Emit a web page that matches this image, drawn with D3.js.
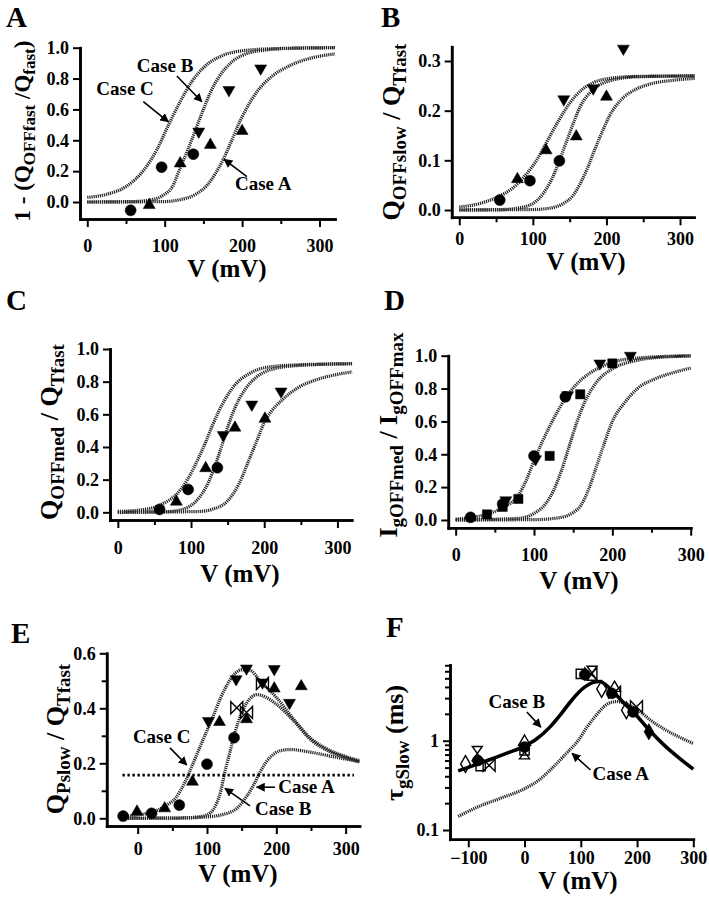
<!DOCTYPE html>
<html>
<head>
<meta charset="utf-8">
<script src="https://cdn.jsdelivr.net/npm/d3@7"></script>
<style>
body { margin: 0; background: #fff; }
svg text { font-family: "Liberation Serif", "DejaVu Serif", serif; font-weight: bold; fill: #000; }
</style>
</head>
<body>
<svg id="fig" width="709" height="900"></svg>
<script>
// ---- Panel A: 1 - (QOFFfast/Qfast) ----
const aCircle = [[56, -0.054], [96, 0.226], [137, 0.31]];
const aUp = [[80, -0.02], [120, 0.25], [159, 0.37], [200, 0.46]];
const aDown = [[144, 0.457], [183, 0.726], [224, 0.866]];
const aCaseC = [[0, 0.03], [25, 0.05], [50, 0.1], [75, 0.22], [90, 0.34], [105, 0.5], [120, 0.65], [135, 0.78], [150, 0.87], [175, 0.95], [200, 0.98], [250, 0.995], [320, 1.0]];
const aCaseB = [[0, 0], [60, 0.003], [80, 0.012], [100, 0.05], [110, 0.1], [120, 0.22], [130, 0.34], [140, 0.47], [150, 0.6], [160, 0.72], [170, 0.81], [185, 0.9], [200, 0.95], [230, 0.985], [270, 0.997], [320, 1.0]];
const aCaseA = [[0, 0], [100, 0.003], [120, 0.015], [140, 0.05], [155, 0.11], [165, 0.18], [175, 0.27], [185, 0.38], [195, 0.5], [205, 0.6], [220, 0.72], [240, 0.82], [260, 0.88], [280, 0.92], [300, 0.945], [320, 0.96]];

// ---- Panel B: QOFFslow/QTfast ----
const bCircle = [[55, 0.02], [96, 0.059], [136, 0.099]];
const bUp = [[79, 0.062], [118, 0.12], [159, 0.148], [200, 0.228]];
const bDown = [[142, 0.223], [182, 0.245], [223, 0.325]];
const bCurveC = [[0, 0.006], [25, 0.012], [50, 0.025], [75, 0.047], [90, 0.07], [105, 0.1], [120, 0.14], [135, 0.18], [150, 0.215], [165, 0.24], [180, 0.255], [200, 0.264], [240, 0.269], [320, 0.27]];
const bCurveB = [[0, 0], [60, 0.001], [80, 0.004], [100, 0.013], [115, 0.035], [125, 0.06], [135, 0.095], [145, 0.135], [155, 0.175], [165, 0.21], [180, 0.24], [200, 0.258], [240, 0.268], [320, 0.27]];
const bCurveA = [[0, 0], [100, 0.001], [120, 0.003], [140, 0.012], [155, 0.03], [165, 0.055], [175, 0.087], [185, 0.125], [195, 0.16], [205, 0.192], [220, 0.222], [240, 0.243], [260, 0.254], [290, 0.261], [320, 0.265]];

// ---- Panel C: QOFFmed/QTfast ----
const cCircle = [[57, 0.018], [96, 0.14], [136, 0.273]];
const cUp = [[80, 0.065], [120, 0.27], [160, 0.518], [201, 0.573]];
const cDown = [[144, 0.473], [183, 0.66], [223, 0.74]];
const cCurveC = [[0, 0.005], [40, 0.02], [60, 0.05], [80, 0.11], [95, 0.2], [110, 0.33], [120, 0.43], [130, 0.54], [145, 0.68], [160, 0.78], [180, 0.85], [200, 0.885], [240, 0.902], [320, 0.91]];
const cCurveB = [[0, 0], [70, 0.005], [90, 0.02], [105, 0.06], [120, 0.15], [130, 0.25], [140, 0.38], [150, 0.52], [160, 0.64], [175, 0.76], [190, 0.83], [210, 0.875], [250, 0.9], [320, 0.91]];
const cCurveA = [[0, 0], [110, 0.005], [130, 0.02], [150, 0.07], [165, 0.17], [180, 0.33], [190, 0.44], [200, 0.55], [210, 0.62], [225, 0.69], [245, 0.76], [270, 0.81], [295, 0.84], [320, 0.86]];

// ---- Panel D: IgOFFmed/IgOFFmax ----
const dCircle = [[19, 0.016], [60, 0.097], [100, 0.39], [140, 0.75]];
const dSquare = [[40, 0.034], [60, 0.08], [80, 0.128], [120, 0.39], [159, 0.765], [200, 0.953]];
const dDown = [[64, 0.12], [102, 0.37], [143, 0.76], [184, 0.953], [223, 1.0]];
const dCurveC = [[0, 0.005], [20, 0.015], [40, 0.035], [60, 0.075], [80, 0.15], [90, 0.24], [100, 0.36], [110, 0.47], [120, 0.57], [130, 0.66], [140, 0.74], [155, 0.83], [170, 0.89], [185, 0.93], [200, 0.96], [230, 0.985], [300, 1.0]];
const dCurveB = [[0, 0], [80, 0.01], [100, 0.04], [115, 0.1], [125, 0.18], [135, 0.3], [145, 0.45], [155, 0.6], [165, 0.72], [180, 0.84], [200, 0.92], [230, 0.97], [260, 0.99], [300, 0.998]];
const dCurveA = [[0, 0], [100, 0.002], [130, 0.012], [150, 0.045], [160, 0.09], [170, 0.19], [180, 0.33], [190, 0.47], [200, 0.6], [215, 0.71], [232, 0.8], [255, 0.86], [280, 0.9], [300, 0.925]];

// ---- Panel E: QPslow/QTfast ----
const eCircle = [[-21, 0.008], [20, 0.018], [60, 0.048], [100, 0.197], [139, 0.293]];
const eUp = [[-1, 0.024], [39, 0.036], [79, 0.133], [118, 0.35], [157, 0.36], [197, 0.472], [236, 0.48]];
const eDown = [[102, 0.354], [142, 0.506], [157, 0.545], [180, 0.494], [197, 0.543], [219, 0.42]];
const eBowtie = [[143, 0.402], [157, 0.385], [180, 0.49]];
const eCurveC = [[-20, 0.005], [0, 0.012], [20, 0.022], [40, 0.045], [55, 0.075], [68, 0.13], [80, 0.2], [95, 0.29], [107, 0.36], [120, 0.44], [135, 0.51], [150, 0.54], [160, 0.54], [180, 0.49], [200, 0.44], [225, 0.36], [250, 0.29], [275, 0.25], [300, 0.225], [320, 0.21]];
const eCurveB = [[-20, 0], [60, 0.001], [90, 0.006], [105, 0.02], [114, 0.055], [120, 0.1], [125, 0.16], [131, 0.22], [138, 0.29], [145, 0.35], [153, 0.4], [162, 0.435], [172, 0.45], [185, 0.44], [200, 0.415], [225, 0.355], [250, 0.285], [275, 0.245], [300, 0.22], [320, 0.205]];
const eCurveA = [[-20, 0], [60, 0.001], [100, 0.005], [120, 0.012], [143, 0.036], [157, 0.079], [167, 0.12], [177, 0.17], [187, 0.21], [197, 0.235], [210, 0.248], [220, 0.25], [250, 0.24], [280, 0.225], [320, 0.206]];
const eLevel = [[-22, 0.157], [312, 0.157]];

// ---- Panel F: tau gSlow (ms), log scale ----
const fCircle = [[-83, 0.6], [0, 0.85], [107, 5.5], [155, 3.4], [193, 2.1]];
const fDiamondFilled = [[221, 1.26]];
const fDiamond = [[-105, 0.55], [137, 3.8], [181, 2.2]];
const fSquare = [[-78, 0.52], [0, 0.78], [100, 5.6]];
const fHourglass = [[-84, 0.72], [0, 0.75], [120, 5.7]];
const fBowtie = [[-63, 0.53], [118, 5.6], [160, 3.5], [199, 2.4]];
const fTriangle = [[0, 0.97], [160, 3.9]];
const fCaseB = [[-118, 0.46], [-90, 0.53], [-60, 0.62], [-30, 0.73], [0, 0.87], [20, 1.03], [45, 1.42], [65, 2.0], [85, 2.9], [105, 3.9], [120, 4.45], [134, 4.6], [145, 4.2], [160, 3.4], [178, 2.6], [195, 2.05], [220, 1.35], [250, 0.87], [275, 0.64], [300, 0.48]];
const fCaseA = [[-118, 0.142], [-80, 0.185], [-40, 0.23], [0, 0.29], [25, 0.36], [50, 0.5], [75, 0.73], [95, 1.0], [111, 1.42], [125, 1.85], [141, 2.4], [155, 2.7], [165, 2.75], [180, 2.6], [200, 2.25], [225, 1.68], [250, 1.33], [275, 1.1], [300, 0.93]];

// ticks
const vTicks = [0, 100, 200, 300];
const vMinor = [50, 150, 250];
const fVTicks = [-100, 0, 100, 200, 300];
const unitTicks = [0, 0.2, 0.4, 0.6, 0.8, 1.0];
const bTicks = [0, 0.1, 0.2, 0.3];
const eTicks = [0, 0.2, 0.4, 0.6];
const eMinor = [0.1, 0.3, 0.5];
const fTicks = [0.1, 1];
const fMinor = [0.2, 0.3, 0.4, 0.5, 0.6, 0.7, 0.8, 0.9, 2, 3, 4, 5, 6, 7];

const svg = d3.select("#fig");

svg.append("defs").append("marker")
    .attr("id", "head")
    .attr("viewBox", "0 0 10 10")
    .attr("refX", 9).attr("refY", 5)
    .attr("markerWidth", 9).attr("markerHeight", 9)
    .attr("markerUnits", "userSpaceOnUse")
    .attr("orient", "auto")
    .append("path").attr("d", "M0,0 L10,5 L0,10 Z").attr("fill", "#000");

const symCircle = d3.symbol().type(d3.symbolCircle).size(95)();
const symUp = d3.symbol().type(d3.symbolTriangle).size(62)();
const symSquare = d3.symbol().type(d3.symbolSquare).size(85)();
const symDiamond = d3.symbol().type(d3.symbolDiamond).size(80)();
const symBowtie = "M-6,-6L0,0L-6,6ZM6,-6L0,0L6,6Z";
const symHourglass = "M-5,-7L5,-7L0,0ZM-5,7L5,7L0,0Z";

function drawPanel(p) {
    const x = d3.scaleLinear().domain(p.xDomain).range(p.xRange);
    const y = (p.log ? d3.scaleLog() : d3.scaleLinear()).domain(p.yDomain).range(p.yRange);
    const g = svg.append("g");
    const bottom = p.yRange[0], left = p.xRange[0];

    // axes: minor ticks first, then labelled ones
    g.append("g").attr("transform", `translate(0,${bottom})`)
        .call(d3.axisBottom(x).tickValues(p.xMinor).tickSize(5).tickFormat("").tickSizeOuter(0));
    g.append("g").attr("transform", `translate(0,${bottom})`)
        .call(d3.axisBottom(x).tickValues(p.xTicks).tickSize(8).tickPadding(p.xPad).tickSizeOuter(0).tickFormat(d3.format("d")));
    g.append("g").attr("transform", `translate(${left},0)`)
        .call(d3.axisLeft(y).tickValues(p.yMinor).tickSize(5).tickFormat("").tickSizeOuter(0));
    g.append("g").attr("transform", `translate(${left},0)`)
        .call(d3.axisLeft(y).tickValues(p.yTicks).tickSize(7).tickPadding(4).tickSizeOuter(0).tickFormat(p.yFormat));

    g.selectAll(".domain").attr("stroke-width", 2.6).attr("stroke-linecap", "square");
    g.selectAll(".tick line").attr("stroke-width", 2);
    g.selectAll(".tick text")
        .attr("font-family", "'Liberation Serif', serif")
        .attr("font-size", 18).attr("font-weight", "bold");

    const line = d3.line().x((d) => x(d[0])).y((d) => y(d[1])).curve(d3.curveMonotoneX);

    // model curves
    p.curves.forEach((c) => {
        g.append("path")
            .datum(c)
            .attr("d", line)
            .attr("fill", "none")
            .attr("stroke", "#222")
            .attr("stroke-width", 3.2)
            .attr("stroke-dasharray", "1.2,0.9");
    });
    (p.solid || []).forEach((c) => {
        g.append("path")
            .datum(c)
            .attr("d", line)
            .attr("fill", "none")
            .attr("stroke", "#000")
            .attr("stroke-width", 3.6);
    });
    (p.dotted || []).forEach((c) => {
        g.append("path")
            .datum(c)
            .attr("d", d3.line().x((d) => x(d[0])).y((d) => y(d[1])))
            .attr("fill", "none")
            .attr("stroke", "#000")
            .attr("stroke-width", 2.6)
            .attr("stroke-dasharray", "2.4,2.6");
    });

    // data markers
    p.points.forEach((s) => {
        g.selectAll(null)
            .data(s.data)
            .enter()
            .append("path")
            .attr("d", s.shape)
            .attr("transform", (d) => `translate(${x(d[0])},${y(d[1])})` + (s.rotate ? ` rotate(${s.rotate})` : ""))
            .attr("fill", s.open ? "none" : "#000")
            .attr("stroke", "#000")
            .attr("stroke-width", s.open ? 1.4 : 0.5);
    });

    // annotations
    (p.notes || []).forEach((n) => {
        g.append("text")
            .attr("x", x(n.at[0]))
            .attr("y", y(n.at[1]))
            .attr("text-anchor", n.anchor || "middle")
            .attr("font-size", 19)
            .text(n.text);
        g.append("line")
            .attr("x1", x(n.from[0])).attr("y1", y(n.from[1]))
            .attr("x2", x(n.to[0])).attr("y2", y(n.to[1]))
            .attr("stroke", "#000")
            .attr("stroke-width", 1.6)
            .attr("marker-end", "url(#head)");
    });

    // panel letter
    svg.append("text")
        .attr("x", p.letterPos[0]).attr("y", p.letterPos[1])
        .attr("font-size", 29)
        .text(p.letter);

    // x title
    svg.append("text")
        .attr("x", p.xTitlePos[0]).attr("y", p.xTitlePos[1])
        .attr("text-anchor", "middle")
        .attr("font-size", 25)
        .text("V (mV)");

    // y title with subscripts
    const main = p.titleSize || 26, sub = p.subSize || 19;
    const yt = svg.append("text")
        .attr("transform", `translate(${p.yTitlePos[0]},${p.yTitlePos[1]}) rotate(-90)`)
        .attr("text-anchor", "middle")
        .attr("font-size", main);
    p.yTitle.forEach((part) => {
        yt.append("tspan")
            .attr("font-size", part.sub ? sub : main)
            .attr("dy", part.dy || 0)
            .text(part.t);
    });
}

const fmt1 = d3.format(".1f");

drawPanel({
    letter: "A", letterPos: [6, 27],
    xDomain: [-9.4, 320], xRange: [80, 335],
    yDomain: [-0.11, 1.0], yRange: [219, 47.7],
    xTicks: vTicks, xMinor: vMinor, xPad: 12,
    yTicks: unitTicks, yMinor: [], yFormat: fmt1,
    curves: [aCaseC, aCaseB, aCaseA],
    points: [
        { data: aCircle, shape: symCircle },
        { data: aUp, shape: symUp },
        { data: aDown, shape: symUp, rotate: 180 }
    ],
    notes: [
        { text: "Case B", at: [100.5, 0.843], from: [115.7, 0.817], to: [148, 0.65] },
        { text: "Case C", at: [48.8, 0.693], from: [72.4, 0.65], to: [104.8, 0.52] },
        { text: "Case A", at: [227.3, 0.078], from: [206.2, 0.164], to: [176.8, 0.277] }
    ],
    xTitlePos: [227, 277],
    yTitlePos: [30, 131],
    titleSize: 23, subSize: 17,
    yTitle: [{ t: "1 - (Q" }, { t: "OFFfast", sub: true, dy: 5 }, { t: " /Q", dy: -5 }, { t: "fast", sub: true, dy: 5 }, { t: ")", dy: -5 }]
});

drawPanel({
    letter: "B", letterPos: [381, 27],
    xDomain: [-10.3, 319], xRange: [451.7, 694],
    yDomain: [-0.0147, 0.3288], yRange: [217.3, 46.7],
    xTicks: vTicks, xMinor: vMinor, xPad: 7,
    yTicks: bTicks, yMinor: [], yFormat: fmt1,
    curves: [bCurveC, bCurveB, bCurveA],
    points: [
        { data: bCircle, shape: symCircle },
        { data: bUp, shape: symUp },
        { data: bDown, shape: symUp, rotate: 180 }
    ],
    xTitlePos: [586, 270],
    yTitlePos: [400, 132],
    yTitle: [{ t: "Q" }, { t: "OFFslow", sub: true, dy: 6 }, { t: " / Q", dy: -6 }, { t: "Tfast", sub: true, dy: 6 }]
});

drawPanel({
    letter: "C", letterPos: [6, 310],
    xDomain: [-10.7, 319.5], xRange: [110, 351.7],
    yDomain: [-0.047, 1.0], yRange: [520, 349],
    xTicks: vTicks, xMinor: vMinor, xPad: 13,
    yTicks: unitTicks, yMinor: [], yFormat: fmt1,
    curves: [cCurveC, cCurveB, cCurveA],
    points: [
        { data: cCircle, shape: symCircle },
        { data: cUp, shape: symUp },
        { data: cDown, shape: symUp, rotate: 180 }
    ],
    xTitlePos: [240, 582],
    yTitlePos: [58, 432],
    yTitle: [{ t: "Q" }, { t: "OFFmed", sub: true, dy: 6 }, { t: " / Q", dy: -6 }, { t: "Tfast", sub: true, dy: 6 }]
});

drawPanel({
    letter: "D", letterPos: [384, 310],
    xDomain: [-9.4, 300], xRange: [448.3, 690.7],
    yDomain: [-0.047, 1.0], yRange: [527.7, 355.7],
    xTicks: vTicks, xMinor: vMinor, xPad: 13,
    yTicks: unitTicks, yMinor: [], yFormat: fmt1,
    curves: [dCurveC, dCurveB, dCurveA],
    points: [
        { data: dSquare, shape: symSquare },
        { data: dCircle, shape: symCircle },
        { data: dDown, shape: symUp, rotate: 180 }
    ],
    xTitlePos: [579, 589],
    yTitlePos: [397, 435],
    yTitle: [{ t: "I" }, { t: "gOFFmed", sub: true, dy: 6 }, { t: " / I", dy: -6 }, { t: "gOFFmax", sub: true, dy: 6 }]
});

drawPanel({
    letter: "E", letterPos: [11, 643],
    xDomain: [-44.7, 320], xRange: [106.7, 359.5],
    yDomain: [-0.028, 0.6], yRange: [826, 653.3],
    xTicks: vTicks, xMinor: vMinor, xPad: 8,
    yTicks: eTicks, yMinor: eMinor, yFormat: fmt1,
    curves: [eCurveC, eCurveB, eCurveA],
    dotted: [eLevel],
    points: [
        { data: eCircle, shape: symCircle },
        { data: eUp, shape: symUp },
        { data: eDown, shape: symUp, rotate: 180 },
        { data: eBowtie, shape: symBowtie, open: true }
    ],
    notes: [
        { text: "Case C", at: [34.6, 0.274], from: [46.6, 0.256], to: [70.7, 0.194] },
        { text: "Case A", at: [202.8, 0.092], anchor: "start", from: [198, 0.113], to: [171.6, 0.113] },
        { text: "Case B", at: [169.2, 0.012], anchor: "start", from: [162, 0.045], to: [125.9, 0.109] }
    ],
    xTitlePos: [238, 882],
    yTitlePos: [64, 739],
    yTitle: [{ t: "Q" }, { t: "Pslow", sub: true, dy: 6 }, { t: " / Q", dy: -6 }, { t: "Tfast", sub: true, dy: 6 }]
});

drawPanel({
    letter: "F", letterPos: [386, 637],
    log: true,
    xDomain: [-132.5, 300], xRange: [450, 693.3],
    yDomain: [0.0787, 7.05], yRange: [839.3, 665],
    xTicks: fVTicks, xMinor: [], xPad: 4,
    yTicks: fTicks, yMinor: fMinor, yFormat: (d) => (d < 1 ? "0.1" : "1"),
    curves: [fCaseA],
    solid: [fCaseB],
    points: [
        { data: fDiamond, shape: symDiamond, open: true },
        { data: fSquare, shape: symSquare, open: true },
        { data: fHourglass, shape: symHourglass, open: true },
        { data: fBowtie, shape: symBowtie, open: true },
        { data: fTriangle, shape: symUp, open: true },
        { data: fCircle, shape: symCircle },
        { data: fDiamondFilled, shape: symDiamond }
    ],
    notes: [
        { text: "Case B", at: [-13.7, 2.32], from: [4.1, 2.1], to: [29, 1.42] },
        { text: "Case A", at: [171.2, 0.363], from: [117.3, 0.47], to: [84.6, 0.72] }
    ],
    xTitlePos: [578, 889],
    yTitlePos: [403, 743],
    yTitle: [{ t: "τ" }, { t: "gSlow", sub: true, dy: 6 }, { t: " (ms)", dy: -6 }]
});
</script>
</body>
</html>
